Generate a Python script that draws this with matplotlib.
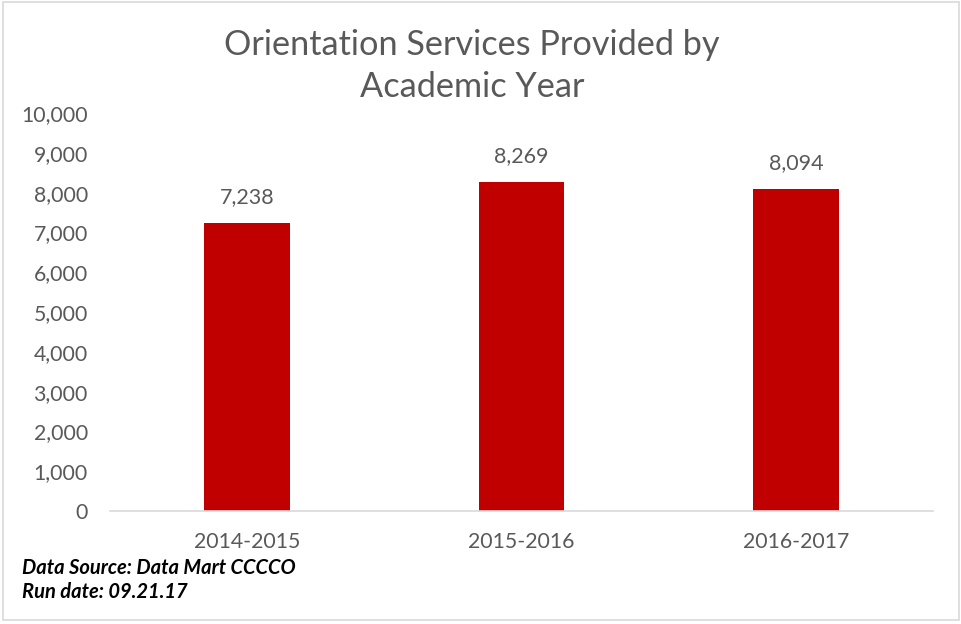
import matplotlib
matplotlib.use("Agg")
import matplotlib.pyplot as plt
from matplotlib.patches import Rectangle
from matplotlib.ticker import FuncFormatter

categories = ["2014-2015", "2015-2016", "2016-2017"]
values = [7238, 8269, 8094]
yticks = [0, 1000, 2000, 3000, 4000, 5000, 6000, 7000, 8000, 9000, 10000]

plt.rcParams['font.family'] = ['Lato', 'DejaVu Sans']
gray = '#595959'

fig = plt.figure(figsize=(9.62, 6.24), dpi=100)
ax = fig.add_axes([110/962, 1-511/624, (933-110)/962, (511-113)/624])

x = range(len(categories))
bars = ax.bar(x, values, width=0.313, color='#C00000', zorder=2)
for xi, v in zip(x, values):
    ax.text(xi, v + 400, f"{v:,}", ha='center', va='bottom', fontsize=15.5, color=gray)

ax.set_xlim(-0.5, 2.5)
ax.set_ylim(0, 10000)
ax.set_yticks(yticks)
ax.yaxis.set_major_formatter(FuncFormatter(lambda v, p: f"{int(v):,}"))
ax.set_xticks(list(x))
ax.set_xticklabels(categories)
ax.tick_params(axis='both', length=0, labelsize=15.3, labelcolor=gray)
ax.tick_params(axis='x', pad=15)
ax.tick_params(axis='y', pad=16)
for s in ['top', 'right', 'left']:
    ax.spines[s].set_visible(False)
ax.spines['bottom'].set_color('#D9D9D9')
ax.spines['bottom'].set_linewidth(1.2)

fig.text(472/962, 1-45/624, "Orientation Services Provided by",
         ha='center', va='center', fontsize=24.7, color=gray)
fig.text(472/962, 1-87/624, "Academic Year",
         ha='center', va='center', fontsize=24.7, color=gray)

fig.text(22/962, 1-568/624, "Data Source: Data Mart CCCCO", ha='left', va='center',
         fontsize=14.5, fontweight='bold', fontstyle='italic', color='black')
fig.text(22/962, 1-592/624, "Run date: 09.21.17", ha='left', va='center',
         fontsize=14.5, fontweight='bold', fontstyle='italic', color='black')

fig.patches.append(Rectangle((3/962, 4/624), 956/962, 618/624, transform=fig.transFigure,
                             fill=False, edgecolor='#D9D9D9', linewidth=1.2))

fig.savefig("out.png", dpi=100)
